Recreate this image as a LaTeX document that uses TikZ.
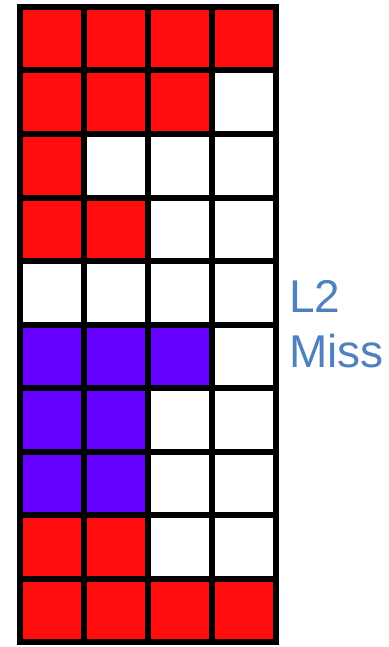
\documentclass[tikz,border=0pt]{standalone}
\usepackage{fontspec}
\setmainfont{Liberation Sans}
\usepackage{tikz}
\usetikzlibrary{positioning}
\usepackage{xcolor}
\definecolor{hitcol}{RGB}{255,12,12}
\definecolor{misscol}{RGB}{102,0,255}
\definecolor{emptycol}{RGB}{255,255,255}
\definecolor{labelcol}{RGB}{79,129,189}
\tikzset{
  % one cache line cell
  cell/.style={rectangle, draw=black, line width=3pt, fill=#1,
               minimum width=32pt, minimum height=31.75pt, inner sep=0pt, outer sep=0pt},
  cell/.default={emptycol},
  % side label
  misslabel/.style={font=\fontsize{23}{27.5}\selectfont, text=labelcol, inner sep=0pt, anchor=base west},
}

\begin{document}
\begin{tikzpicture}[x=0.5pt, y=-0.5pt]
  \useasboundingbox (0,0) rectangle (389,647);

  % ═══════ GRID ═══════
  \foreach \r/\a/\b/\c/\d in {
      1/hitcol/hitcol/hitcol/hitcol,
      2/hitcol/hitcol/hitcol/emptycol,
      3/hitcol/emptycol/emptycol/emptycol,
      4/hitcol/hitcol/emptycol/emptycol,
      5/emptycol/emptycol/emptycol/emptycol,
      6/misscol/misscol/misscol/emptycol,
      7/misscol/misscol/emptycol/emptycol,
      8/misscol/misscol/emptycol/emptycol,
      9/hitcol/hitcol/emptycol/emptycol,
      10/hitcol/hitcol/hitcol/hitcol} {
    \foreach \k/\col in {1/\a, 2/\b, 3/\c, 4/\d} {
      \node[cell=\col] (c-\r-\k) at ({51.5+64*(\k-1)}, {38.75+63.5*(\r-1)}) {};
    }
  }

  % ═══════ LABEL ═══════
  \node[misslabel] (l2) at (289,312) {L2};
  \node[misslabel] (miss) at (289,367) {Miss};

\end{tikzpicture}
\end{document}
